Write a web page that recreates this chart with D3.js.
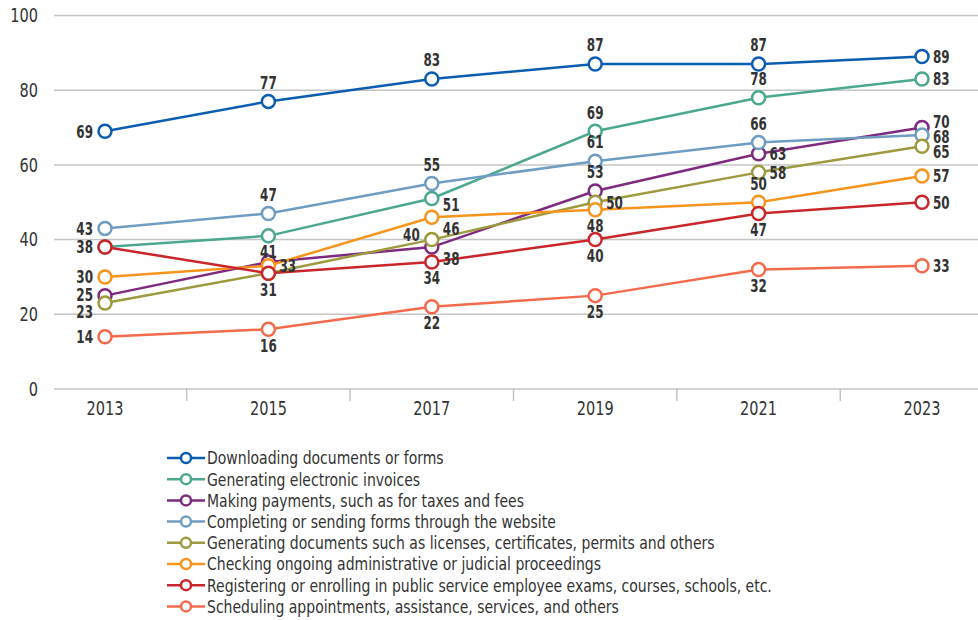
<html>
<head>
<style>
  body { margin: 0; background: #fff; }
  svg { display: block; }
  .chart text { font-family: "DejaVu Sans Condensed", "DejaVu Sans", sans-serif; font-stretch: condensed; fill: #333; }
  .grid line { stroke: #c4c4c4; stroke-width: 1.5; }
  .tick-lab { font-size: 19px; fill: #444; }
  .val { font-size: 18px; font-weight: 600; fill: #222; }
  .leg { font-size: 18px; fill: #222; }
</style>
</head>
<body>
<svg class="chart" width="978" height="620"></svg>
<script src="https://d3js.org/d3.v7.min.js"></script>
<script>
var years = ["2013", "2015", "2017", "2019", "2021", "2023"];
var yTicks = [0, 20, 40, 60, 80, 100];

var seriesNames = [
  "Downloading documents or forms",
  "Generating electronic invoices",
  "Making payments, such as for taxes and fees",
  "Completing or sending forms through the website",
  "Generating documents such as licenses, certificates, permits and others",
  "Checking ongoing administrative or judicial proceedings",
  "Registering or enrolling in public service employee exams, courses, schools, etc.",
  "Scheduling appointments, assistance, services, and others"
];

var downloading = [69, 77, 83, 87, 87, 89];
var invoices    = [38, 41, 51, 69, 78, 83];
var payments    = [25, 34, 38, 53, 63, 70];
var forms       = [43, 47, 55, 61, 66, 68];
var documents   = [23, 31, 40, 50, 58, 65];
var checking    = [30, 33, 46, 48, 50, 57];
var registering = [38, 31, 34, 40, 47, 50];
var scheduling  = [14, 16, 22, 25, 32, 33];

var seriesValues = [downloading, invoices, payments, forms, documents, checking, registering, scheduling];

var colors = ["#0b5db0", "#4ba890", "#7d2a7f", "#6f9dc2", "#9d9a3f", "#f7941d", "#c9262c", "#f36b4c"];

// where each data label sits relative to its point (null = hidden)
var labelPlace = [
  ["l", "a", "a", "a", "a", "r"],
  [null, "b", "rb", "a", "a", "r"],
  ["l", null, "rb", "a", "r", "r"],
  ["l", "a", "a", "a", "a", "r"],
  ["l", null, "l", "r", "r", "r"],
  ["l", "r", "rb", "b", "a", "r"],
  ["l", "b", "b", "b", "b", "r"],
  ["l", "b", "b", "b", "b", "r"]
];
// small vertical nudges where labels crowd (series index, point index, px)
var nudges = [[4, 0, 9], [2, 0, -1], [2, 5, -6], [3, 5, 2], [4, 5, 5], [1, 2, -6], [4, 2, -5]];

var svg = d3.select(".chart");

var x = d3.scalePoint().domain(years).range([105, 922]);
var y = d3.scaleLinear().domain([0, 100]).range([389, 15.5]);

function narrowText(sel, tx, ty, sx) {
  return sel.attr("transform", "translate(" + tx + "," + ty + ") scale(" + sx + ",1)");
}

// grid
svg.append("g").attr("class", "grid")
  .selectAll("line").data(yTicks).enter().append("line")
  .attr("x1", 54).attr("x2", 978)
  .attr("y1", function(d) { return y(d); })
  .attr("y2", function(d) { return y(d); });

svg.append("g").selectAll("text").data(yTicks).enter().append("text")
  .attr("class", "tick-lab")
  .attr("transform", function(d) { return "translate(38," + y(d) + ") scale(0.85,1)"; })
  .attr("dy", "0.35em").attr("text-anchor", "end")
  .text(function(d) { return d; });

// x ticks between categories
var step = x.step();
svg.append("g").selectAll("line").data(years.slice(0, -1)).enter().append("line")
  .attr("x1", function(d) { return x(d) + step / 2; })
  .attr("x2", function(d) { return x(d) + step / 2; })
  .attr("y1", y(0)).attr("y2", y(0) + 12)
  .attr("stroke", "#c4c4c4").attr("stroke-width", 1.5);

svg.append("g").selectAll("text").data(years).enter().append("text")
  .attr("class", "tick-lab")
  .attr("transform", function(d) { return "translate(" + x(d) + ",408) scale(0.85,1)"; })
  .attr("dy", "0.35em").attr("text-anchor", "middle")
  .text(function(d) { return d; });

var line = d3.line()
  .x(function(d, i) { return x(years[i]); })
  .y(function(d) { return y(d); });

var groups = svg.append("g").selectAll("g").data(seriesValues).enter().append("g");

groups.append("path")
  .attr("d", function(d) { return line(d); })
  .attr("fill", "none")
  .attr("stroke", function(d, i) { return colors[i]; })
  .attr("stroke-width", 2.5);

groups.each(function(vals, si) {
  var g = d3.select(this);
  g.selectAll("circle").data(vals).enter().append("circle")
    .attr("cx", function(d, i) { return x(years[i]); })
    .attr("cy", function(d) { return y(d); })
    .attr("r", 6.5)
    .attr("fill", "#fff")
    .attr("stroke", colors[si])
    .attr("stroke-width", 2.5);
});

// labels drawn last so they sit on top
var labels = svg.append("g");
seriesValues.forEach(function(vals, si) {
  vals.forEach(function(v, i) {
    var p = labelPlace[si][i];
    if (!p) return;
    var cx = x(years[i]), cy = y(v);
    var lx = cx, ly = cy, anchor = "middle";
    if (p === "l") { lx = cx - 12; anchor = "end"; }
    if (p === "r") { lx = cx + 11; anchor = "start"; }
    if (p === "a") { ly = cy - 19; }
    if (p === "b") { ly = cy + 16; }
    if (p === "rb") { lx = cx + 11; ly = cy + 12; anchor = "start"; }
    nudges.forEach(function(n) { if (n[0] === si && n[1] === i) ly += n[2]; });
    var t = labels.append("text").attr("class", "val")
      .attr("dy", "0.35em")
      .attr("text-anchor", anchor).text(v);
    narrowText(t, lx, ly, 0.74);
  });
});

// legend
var leg = svg.append("g").selectAll("g").data(seriesNames).enter().append("g")
  .attr("transform", function(d, i) { return "translate(167," + (458 + i * 21.2) + ")"; });
leg.append("line").attr("x1", 0).attr("x2", 38).attr("y1", 0).attr("y2", 0)
  .attr("stroke", function(d, i) { return colors[i]; }).attr("stroke-width", 2.5);
leg.append("circle").attr("cx", 19).attr("cy", 0).attr("r", 5)
  .attr("fill", "#fff").attr("stroke", function(d, i) { return colors[i]; }).attr("stroke-width", 2.5);
leg.append("text").attr("class", "leg")
  .attr("transform", "translate(40,0) scale(0.865,1)")
  .attr("dy", "0.35em")
  .text(function(d) { return d; });
</script>
</body>
</html>
